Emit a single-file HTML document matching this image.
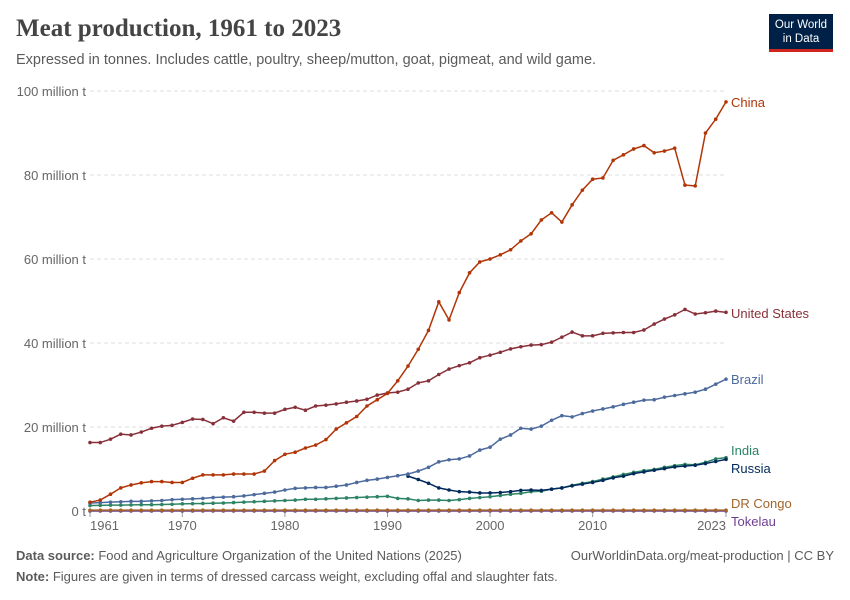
<!DOCTYPE html>
<html><head><meta charset="utf-8"><style>
body{margin:0;background:#fff;font-family:"Liberation Sans",sans-serif;}
#c{position:relative;width:850px;height:600px;overflow:hidden;}
.t{position:absolute;white-space:nowrap;}
</style></head><body>
<div id="c">
<div class="t" style="left:16px;top:15px;font-family:'Liberation Serif',serif;font-size:25px;font-weight:bold;color:#444;">Meat production, 1961 to 2023</div>
<div class="t" style="left:16px;top:52px;font-size:14.5px;color:#5b5b5b;">Expressed in tonnes. Includes cattle, poultry, sheep/mutton, goat, pigmeat, and wild game.</div>
<div style="position:absolute;left:769px;top:14px;width:64px;height:38px;background:#002147;border-bottom:3px solid #ce261e;color:#fff;font-size:11.5px;line-height:14px;text-align:center;padding-top:4px;box-sizing:border-box;">Our World<br>in Data</div>
<svg id="s" width="850" height="600" style="position:absolute;left:0;top:0"></svg>
<div class="t" style="left:16px;top:548px;font-size:13px;color:#5b5b5b;"><b>Data source:</b> Food and Agriculture Organization of the United Nations (2025)</div>
<div class="t" style="right:16px;top:548px;font-size:13px;color:#5b5b5b;">OurWorldinData.org/meat-production | CC BY</div>
<div class="t" style="left:16px;top:569px;font-size:13px;color:#5b5b5b;"><b>Note:</b> Figures are given in terms of dressed carcass weight, excluding offal and slaughter fats.</div>
</div>
<script>
const years=[];for(let y=1961;y<=2023;y++)years.push(y);
const yTicks=[0,20,40,60,80,100];
const yTickLabels=["0 t","20 million t","40 million t","60 million t","80 million t","100 million t"];
const xTicks=[1961,1970,1980,1990,2000,2010,2023];
const china=[2.1,2.6,4,5.5,6.2,6.7,7,7,6.8,6.8,7.8,8.6,8.6,8.6,8.8,8.8,8.8,9.5,12,13.5,14,15,15.7,17,19.5,21,22.5,25,26.5,28,31,34.5,38.5,43,49.8,45.5,52,56.7,59.3,60,61,62.2,64.3,66,69.3,71,68.8,72.9,76.4,79,79.3,83.5,84.8,86.2,87,85.3,85.7,86.4,77.6,77.4,90,93.3,97.4];
const us=[16.3,16.3,17.1,18.3,18.1,18.8,19.7,20.2,20.4,21.1,21.9,21.8,20.8,22.2,21.4,23.5,23.5,23.3,23.3,24.2,24.7,24,25,25.2,25.5,25.9,26.2,26.6,27.6,28.1,28.3,29,30.5,31,32.5,33.8,34.6,35.3,36.5,37.1,37.8,38.6,39.1,39.5,39.6,40.2,41.4,42.6,41.7,41.7,42.3,42.4,42.5,42.5,43.1,44.5,45.7,46.7,48,46.9,47.2,47.6,47.3];
const brazil=[1.9,2,2.1,2.2,2.3,2.3,2.4,2.5,2.7,2.8,2.9,3,3.2,3.3,3.4,3.6,3.9,4.2,4.5,5,5.4,5.5,5.6,5.6,5.9,6.2,6.8,7.3,7.6,8,8.4,8.8,9.5,10.4,11.7,12.2,12.4,13.1,14.5,15.2,17.1,18.1,19.7,19.5,20.2,21.6,22.7,22.4,23.2,23.8,24.3,24.8,25.4,25.9,26.4,26.5,27.1,27.5,27.9,28.3,29,30.2,31.4];
const india=[1.3,1.35,1.4,1.4,1.45,1.5,1.5,1.55,1.6,1.7,1.75,1.8,1.85,1.9,2,2.1,2.2,2.3,2.4,2.5,2.6,2.8,2.8,2.9,3,3.1,3.2,3.3,3.4,3.5,3,2.9,2.5,2.6,2.6,2.5,2.7,3,3.2,3.4,3.7,4,4.2,4.6,4.7,5.2,5.5,6.1,6.6,7,7.6,8.1,8.7,9.2,9.6,9.9,10.4,10.8,11.1,11,11.6,12.4,12.7];
const russiaYears=years.slice(31);
const russia=[8.3,7.5,6.6,5.5,5,4.6,4.5,4.3,4.3,4.4,4.6,4.9,5,4.9,5.2,5.5,6,6.4,6.8,7.3,7.9,8.3,8.9,9.3,9.7,10.1,10.5,10.7,10.9,11.3,11.8,12.3];
const drc=years.map(()=>0.2);
const tokelau=years.map(()=>0);
const x=v=>90+(v-1961)*(726-90)/62;
const y=v=>511-v*4.2;
const s=document.getElementById('s');const NS='http://www.w3.org/2000/svg';
function el(t,a){const e=document.createElementNS(NS,t);for(const k in a)e.setAttribute(k,a[k]);s.appendChild(e);return e;}
yTicks.forEach((v,i)=>{
 if(v>0){const g=el('line',{x1:90,x2:726,y1:y(v),y2:y(v),stroke:'#ddd','stroke-dasharray':'4,3'});
 
 }
 const t=el('text',{x:86,y:y(v)+5,'text-anchor':'end','font-size':13,fill:'#666','font-family':'Liberation Sans'});t.textContent=yTickLabels[i];
 
 
});
xTicks.forEach((v,i)=>{
 const l=el('line',{x1:x(v),x2:x(v),y1:512,y2:517,stroke:'#999'});
 
 
 const anchor=i===0?'start':(i===xTicks.length-1?'end':'middle');
 const t=el('text',{x:x(v),y:530,'text-anchor':anchor,'font-size':13,fill:'#666','font-family':'Liberation Sans'});t.textContent=v;
 
 
});
const series=[
 ['tokelau-line',years,tokelau,'#6d3e91','Tokelau',521],
 ['drc-line',years,drc,'#a2642a','DR Congo',503],
 ['india-line',years,india,'#2c8465','India',450],
 ['russia-line',russiaYears,russia,'#00295b','Russia',468],
 ['brazil-line',years,brazil,'#4c6a9c','Brazil',379],
 ['us-line',years,us,'#883039','United States',313],
 ['china-line',years,china,'#b13507','China',102]];
series.forEach(([n,xs,vs,c,lab,ly])=>{
 const p=el('polyline',{points:vs.map((v,i)=>x(xs[i])+','+y(v)).join(' '),fill:'none',stroke:c,'stroke-width':1.5});
 
 
 vs.forEach((v,i)=>{const d=el('circle',{cx:x(xs[i]),cy:y(v),r:1.8,fill:c});
  
  });
 const t=el('text',{x:731,y:ly+5,'font-size':13,fill:c,'font-family':'Liberation Sans'});t.textContent=lab;
 
 
});
</script>
</body></html>
